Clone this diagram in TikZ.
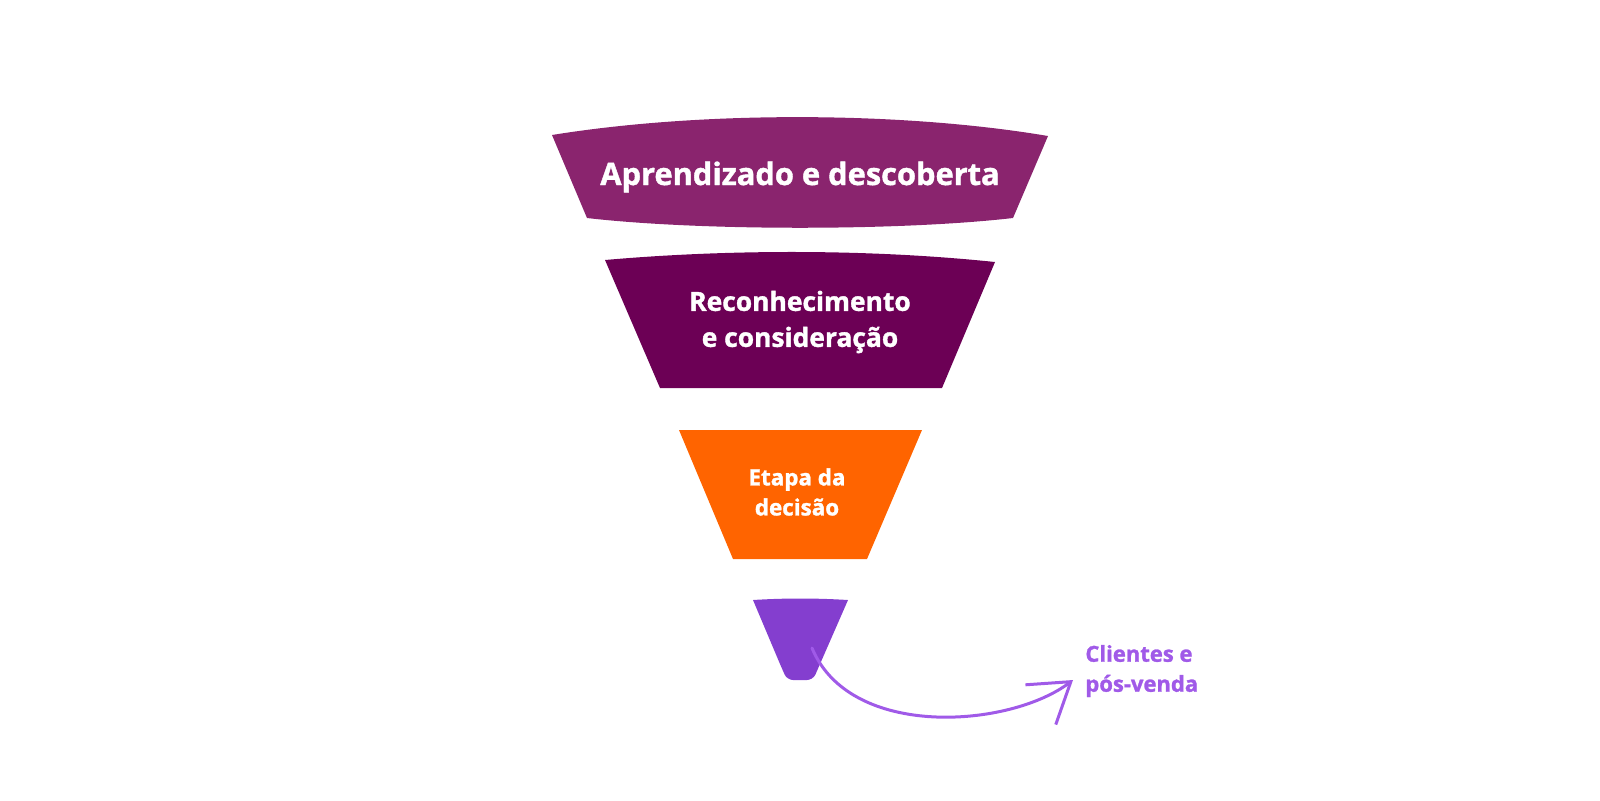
\documentclass[tikz,border=0pt]{standalone}
\usepackage{fontspec}
\setmainfont{Open Sans}[BoldFeatures={FakeBold=1.3}]
\usepackage{tikz}
\usetikzlibrary{positioning,arrows.meta,calc}
\definecolor{etapaum}{HTML}{8A246E}
\definecolor{etapadois}{HTML}{6C0055}
\definecolor{etapatres}{HTML}{FF6400}
\definecolor{etapaquatro}{HTML}{843ECF}
\definecolor{lilas}{HTML}{A05AE8}

\begin{document}
\begin{tikzpicture}[x=0.5pt,y=-0.5pt,
    rotulo/.style={text=white, font=\bfseries, align=center, inner sep=0pt},
    seta/.style={draw=lilas, line width=1.5pt, line cap=round,
                 -{Straight Barb[length=19pt,width=25pt,line width=1.5pt]}}]
  \useasboundingbox (0,0) rectangle (1600,800);
  \fill[etapaum] (552,135) -- (587,218)
      .. controls (700,231) and (900,231) .. (1013,218) -- (1048,136)
      .. controls (900,111) and (700,111) .. cycle;
  \fill[etapadois] (605,260) -- (660,388) -- (942,388) -- (995,262)
      .. controls (870,249) and (730,249) .. cycle;
  \fill[etapatres] (679,430) -- (733,559) -- (867,559) -- (922,430) -- cycle;
  \fill[etapaquatro] (753,600) -- (780,664) [rounded corners=3pt] -- (787,680)
      -- (813,680) -- (820,664) [sharp corners] -- (848,600)
      .. controls (815,598) and (785,598) .. cycle;
  \node[rotulo, font=\bfseries\fontsize{15.4}{18}\selectfont] (aprend) at (800,177)
      {Aprendizado e descoberta};
  \node[rotulo, font=\bfseries\fontsize{13.2}{18}\selectfont] (reconh) at (800,322)
      {Reconhecimento\\e consideração};
  \node[rotulo, font=\bfseries\fontsize{11.2}{15}\selectfont] (decisao) at (797,492)
      {Etapa da\\decisão};
  \node[rotulo, text=lilas, align=left, anchor=west,
        font=\bfseries\fontsize{11}{15}\selectfont] (posvenda) at (1085,671)
      {Clientes e\\pós-venda};
  \coordinate (fundo) at (812,648);
  \coordinate (ponta) at ($(posvenda.west)+(-12,9)$);
  \draw[seta] (fundo) .. controls (850,740) and (1010,728) .. (ponta);
\end{tikzpicture}
\end{document}
